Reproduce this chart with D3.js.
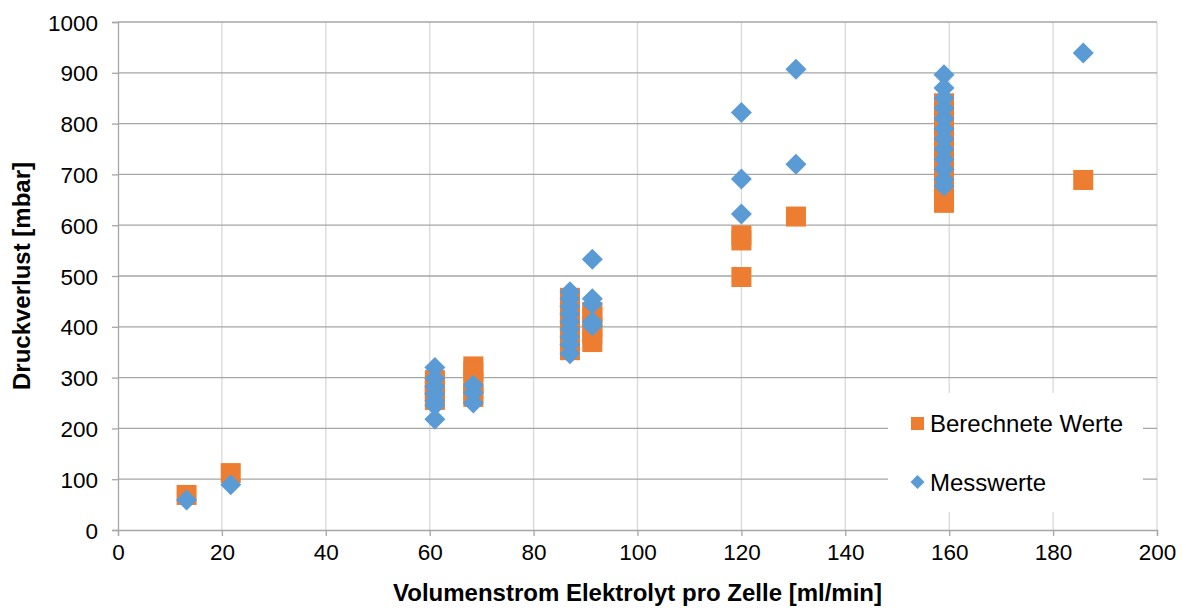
<!DOCTYPE html>
<html>
<head>
<meta charset="utf-8">
<script src="https://cdn.jsdelivr.net/npm/d3@7"></script>
<style>
  html, body { margin: 0; padding: 0; background: #fff; }
  svg { display: block; font-family: "Liberation Sans", Arial, sans-serif; }
</style>
</head>
<body>
<svg id="chart" width="1186" height="608"></svg>
<script>
// Berechnete Werte (calculated pressure loss)
const calcX = [13.2, 21.7,
  61, 61, 61, 61, 61,
  68.4, 68.4, 68.4, 68.4, 68.4,
  87, 87, 87, 87, 87, 87, 87, 87,
  91.3, 91.3, 91.3, 91.3, 91.3,
  120, 120, 120,
  130.5,
  159, 159, 159, 159, 159, 159, 159, 159, 159, 159, 159,
  185.8];
const calcY = [69, 112,
  295, 285, 275, 265, 256,
  322, 312, 290, 270, 262,
  457, 440, 425, 410, 395, 380, 365, 354,
  429, 420, 400, 385, 370,
  580, 570, 498,
  617,
  840, 820, 800, 780, 760, 740, 720, 700, 680, 660, 644,
  689];

// Messwerte (measured pressure loss)
const measX = [13.2, 21.7,
  61, 61, 61, 61, 61, 61, 61,
  68.4, 68.4, 68.4,
  87, 87, 87, 87, 87, 87, 87, 87, 87,
  91.3, 91.3, 91.3, 91.3, 91.3,
  120, 120, 120,
  130.5, 130.5,
  159, 159, 159, 159, 159, 159, 159, 159, 159, 159, 159, 159,
  185.8];
const measY = [59, 89,
  320, 298, 282, 268, 255, 245, 218,
  285, 270, 250,
  469, 455, 440, 425, 410, 395, 380, 365, 347,
  533, 455, 445, 410, 402,
  822, 691, 622,
  907, 720,
  896, 870, 850, 830, 810, 790, 770, 750, 730, 710, 690, 677,
  939];

const xTicks = [0, 20, 40, 60, 80, 100, 120, 140, 160, 180, 200];
const yTicks = [0, 100, 200, 300, 400, 500, 600, 700, 800, 900, 1000];

const seriesNames = ["Berechnete Werte", "Messwerte"];
const colors = ["#ED7D31", "#5B9BD5"];
const xTitle = "Volumenstrom Elektrolyt pro Zelle [ml/min]";
const yTitle = "Druckverlust [mbar]";

const W = 1186, H = 608;
const margin = { left: 118, right: 29, top: 22, bottom: 78 };
const svg = d3.select("#chart");

const x = d3.scaleLinear().domain([0, 200]).range([margin.left, W - margin.right]);
const y = d3.scaleLinear().domain([0, 1000]).range([H - margin.bottom, margin.top]);

// vertical gridlines (light)
svg.append("g").selectAll("line").data(xTicks.filter(d => d > 0)).join("line")
  .attr("x1", d => x(d)).attr("x2", d => x(d))
  .attr("y1", y(0)).attr("y2", y(1000))
  .attr("stroke", "#d9d9d9").attr("stroke-width", 1.3);

// horizontal gridlines (darker)
svg.append("g").selectAll("line").data(yTicks.filter(d => d > 0)).join("line")
  .attr("x1", x(0)).attr("x2", x(200))
  .attr("y1", d => y(d)).attr("y2", d => y(d))
  .attr("stroke", "#a6a6a6").attr("stroke-width", 1.3);

// axes
const xAxis = svg.append("g").attr("transform", `translate(0,${y(0)})`)
  .call(d3.axisBottom(x).tickValues(xTicks).tickSize(6).tickPadding(8).tickFormat(d3.format("d")));
const yAxis = svg.append("g").attr("transform", `translate(${x(0)},0)`)
  .call(d3.axisLeft(y).tickValues(yTicks).tickSize(6).tickPadding(14).tickFormat(d3.format("d")));
[xAxis, yAxis].forEach(a => {
  a.select(".domain").attr("stroke", "#a6a6a6").attr("stroke-width", 1.3);
  a.selectAll(".tick line").attr("stroke", "#a6a6a6").attr("stroke-width", 1.3);
  a.selectAll(".tick text").attr("fill", "#000").style("font-size", "22.5px")
    .style("font-family", "'Liberation Sans', Arial, sans-serif");
});
yAxis.selectAll(".tick text").attr("dy", "0.36em");

// legend box (drawn before markers so markers stay on top)
const lg = svg.append("g");
lg.append("rect").attr("x", 888).attr("y", 393).attr("width", 255).attr("height", 119).attr("fill", "#fff");

// markers
const sq = 20, dia = 10.5;
svg.append("g").selectAll("rect").data(calcX.map((v, i) => [v, calcY[i]])).join("rect")
  .attr("x", d => x(d[0]) - sq / 2).attr("y", d => y(d[1]) - sq / 2)
  .attr("width", sq).attr("height", sq).attr("fill", colors[0]);

svg.append("g").selectAll("path").data(measX.map((v, i) => [v, measY[i]])).join("path")
  .attr("d", d => {
    const cx = x(d[0]), cy = y(d[1]);
    return `M${cx},${cy - dia}L${cx + dia},${cy}L${cx},${cy + dia}L${cx - dia},${cy}Z`;
  })
  .attr("fill", colors[1]);

// legend entries
lg.append("rect").attr("x", 911).attr("y", 417).attr("width", 13).attr("height", 13).attr("fill", colors[0]);
lg.append("path").attr("d", "M917.5,475L924.5,482L917.5,489L910.5,482Z").attr("fill", colors[1]);
lg.append("text").attr("x", 930).attr("y", 432).style("font-size", "24px").text(seriesNames[0]);
lg.append("text").attr("x", 930).attr("y", 491).style("font-size", "24px").text(seriesNames[1]);

// axis titles
svg.append("text").attr("x", (x(0) + x(200)) / 2).attr("y", 601)
  .attr("text-anchor", "middle").style("font-size", "24px").style("font-weight", "bold").text(xTitle);
svg.append("text").attr("transform", `translate(30,${(y(0) + y(1000)) / 2}) rotate(-90)`)
  .attr("text-anchor", "middle").style("font-size", "24px").style("font-weight", "bold").text(yTitle);
</script>
</body>
</html>
